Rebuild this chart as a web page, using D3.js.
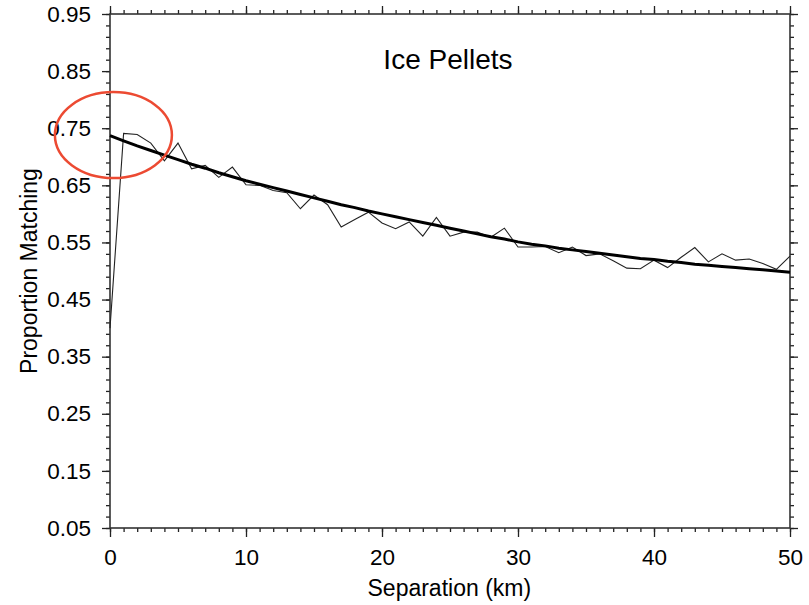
<!DOCTYPE html>
<html>
<head>
<meta charset="utf-8">
<script src="https://cdn.jsdelivr.net/npm/d3@7"></script>
<style>
  body { margin: 0; background: #fff; }
  text { font-family: Arial, "Liberation Sans", sans-serif; fill: #000; }
</style>
</head>
<body>
<div id="chart"></div>
<script>
// separation (km)
const separation = d3.range(0, 51);

const observed = [
  0.400, 0.741, 0.739, 0.724, 0.693, 0.724, 0.679, 0.685, 0.664, 0.682,
  0.651, 0.650, 0.641, 0.637, 0.609, 0.633, 0.616, 0.577, 0.590, 0.603,
  0.584, 0.574, 0.586, 0.561, 0.594, 0.561, 0.568, 0.568, 0.559, 0.575,
  0.542, 0.542, 0.543, 0.532, 0.542, 0.527, 0.530, 0.518, 0.505, 0.504,
  0.519, 0.506, 0.524, 0.541, 0.516, 0.530, 0.519, 0.521, 0.513, 0.503,
  0.526
];

// fitted curve
const fitted = [
  0.737, 0.728, 0.719, 0.711, 0.703, 0.695, 0.687, 0.680, 0.672, 0.665,
  0.658, 0.652, 0.646, 0.640, 0.634, 0.628, 0.622, 0.616, 0.611, 0.605,
  0.600, 0.595, 0.590, 0.585, 0.580, 0.575, 0.570, 0.565, 0.560, 0.556,
  0.551, 0.547, 0.544, 0.540, 0.537, 0.534, 0.531, 0.528, 0.525, 0.522,
  0.520, 0.517, 0.515, 0.512, 0.510, 0.508, 0.506, 0.504, 0.502, 0.500,
  0.498
];

const xTicks = [0, 10, 20, 30, 40, 50];
const yTicks = [0.05, 0.15, 0.25, 0.35, 0.45, 0.55, 0.65, 0.75, 0.85, 0.95];

// highlighted region (data coords of the circle centre)
const highlight = [{ x: 0.25, y: 0.738 }];

const W = 809, H = 605;
const margin = { top: 14, right: 19, bottom: 77, left: 110 };
const width = W - margin.left - margin.right;
const height = H - margin.top - margin.bottom;

const svg = d3.select("#chart").append("svg")
    .attr("width", W)
    .attr("height", H);

const g = svg.append("g")
    .attr("transform", `translate(${margin.left},${margin.top})`);

const x = d3.scaleLinear().domain([0, 50]).range([0, width]);
const y = d3.scaleLinear().domain([0.05, 0.95]).range([height, 0]);

const minorX = d3.range(0, 51, 1);
const minorY = d3.range(0, 46).map(i => 0.05 + i * 0.02);

function tickStyle(sel) {
    sel.select(".domain").remove();
    sel.selectAll(".tick line").attr("stroke", "#222").attr("stroke-width", 1.3);
}

// minor ticks (no labels)
g.append("g").attr("transform", `translate(0,${height})`)
    .call(d3.axisBottom(x).tickValues(minorX).tickSize(4).tickFormat(""))
    .call(tickStyle);
g.append("g")
    .call(d3.axisTop(x).tickValues(minorX).tickSize(4).tickFormat(""))
    .call(tickStyle);
g.append("g")
    .call(d3.axisLeft(y).tickValues(minorY).tickSize(4).tickFormat(""))
    .call(tickStyle);
g.append("g").attr("transform", `translate(${width},0)`)
    .call(d3.axisRight(y).tickValues(minorY).tickSize(4).tickFormat(""))
    .call(tickStyle);

// major ticks
const xAxis = g.append("g").attr("transform", `translate(0,${height})`)
    .call(d3.axisBottom(x).tickValues(xTicks).tickSize(9).tickPadding(12).tickFormat(d3.format("d")))
    .call(tickStyle);
xAxis.selectAll("text").style("font-size", "22.5px");

const yAxis = g.append("g")
    .call(d3.axisLeft(y).tickValues(yTicks).tickSize(8).tickPadding(11).tickFormat(d3.format(".2f")))
    .call(tickStyle);
yAxis.selectAll("text").style("font-size", "22.5px");

g.append("g")
    .call(d3.axisTop(x).tickValues(xTicks).tickSize(8).tickFormat(""))
    .call(tickStyle);
g.append("g").attr("transform", `translate(${width},0)`)
    .call(d3.axisRight(y).tickValues(yTicks).tickSize(8).tickFormat(""))
    .call(tickStyle);

// frame
g.append("rect")
    .attr("width", width)
    .attr("height", height)
    .attr("fill", "none")
    .attr("stroke", "#333")
    .attr("stroke-width", 1.6);

const line = (vals) => d3.line()
    .x((d, i) => x(separation[i]))
    .y(d => y(d))(vals);

g.append("path")
    .attr("d", line(observed))
    .attr("fill", "none")
    .attr("stroke", "#222")
    .attr("stroke-width", 1.1);

g.append("path")
    .attr("d", line(fitted))
    .attr("fill", "none")
    .attr("stroke", "#000")
    .attr("stroke-width", 3);

// title
g.append("text")
    .attr("x", x(24.85))
    .attr("y", 55)
    .attr("text-anchor", "middle")
    .style("font-size", "28px")
    .text("Ice Pellets");

// axis titles
svg.append("text")
    .attr("x", margin.left + x(24.95))
    .attr("y", 596)
    .attr("text-anchor", "middle")
    .style("font-size", "23px")
    .text("Separation (km)");

svg.append("text")
    .attr("transform", `translate(37,271) rotate(-90)`)
    .attr("text-anchor", "middle")
    .style("font-size", "23px")
    .text("Proportion Matching");

// red highlight circle
g.selectAll(".hl")
    .data(highlight)
    .enter().append("ellipse")
    .attr("class", "hl")
    .attr("cx", d => x(d.x))
    .attr("cy", d => y(d.y))
    .attr("rx", 58.5)
    .attr("ry", 43)
    .attr("fill", "none")
    .attr("stroke", "#ec4a32")
    .attr("stroke-width", 2.5);
</script>
</body>
</html>
